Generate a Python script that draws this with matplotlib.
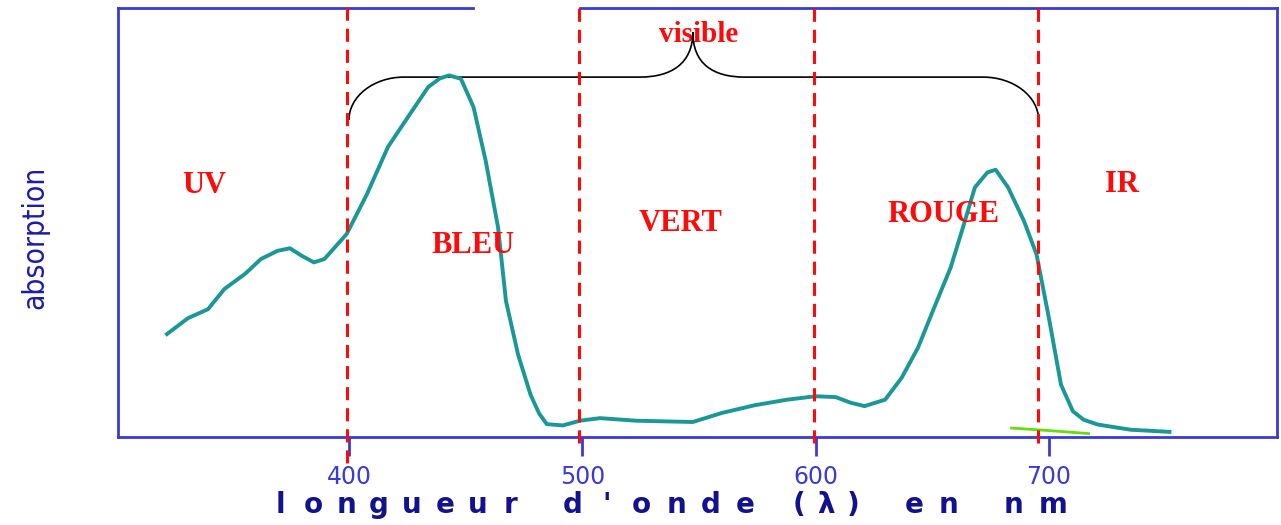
import numpy as np
import matplotlib
matplotlib.use("Agg")
import matplotlib.pyplot as plt
from matplotlib.path import Path
from matplotlib.patches import PathPatch
import matplotlib.transforms as mtransforms

# spectre d'absorption
wl = [322, 331, 339.6, 346.6, 355.4, 362.3, 369.4, 374.7, 379.9, 385, 389.5,
      399, 407.7, 416.7, 425.3, 434, 439, 442.9, 448, 453.4, 458.6, 463.9, 467.3,
      472.5, 477.8, 481.5, 484.8, 491.7, 499, 507.6, 523, 547.4, 559.8, 573.8, 587.8,
      600, 608.7, 615, 621, 629.8, 636.9, 643.9, 650.8, 657.9, 663.2, 668.3, 673.7,
      677.2, 682.5, 689.3, 694.7, 700, 705.2, 710.3, 715, 721, 735, 751.7]
absorb = [0.24, 0.277, 0.298, 0.345, 0.38, 0.415, 0.434, 0.44, 0.422, 0.407, 0.415,
          0.473, 0.566, 0.676, 0.746, 0.816, 0.836, 0.843, 0.835, 0.769, 0.644, 0.489, 0.317,
          0.192, 0.099, 0.055, 0.030, 0.027, 0.038, 0.044, 0.038, 0.035, 0.056, 0.074, 0.087,
          0.095, 0.093, 0.080, 0.072, 0.087, 0.138, 0.208, 0.301, 0.395, 0.489, 0.582, 0.617,
          0.623, 0.582, 0.504, 0.426, 0.278, 0.122, 0.060, 0.040, 0.029, 0.017, 0.012]

# petit trait vert parasite en bas a droite
green_wl = [684, 700, 717]
green_y = [0.021, 0.015, 0.008]

limits = [399, 498.5, 599.5, 695.5]
xticks = [400, 500, 600, 700]

zones = ["UV", "BLEU", "VERT", "ROUGE", "IR"]
zone_x = [337.8, 453.1, 542.3, 654.8, 731.3]
zone_y = [0.569, 0.430, 0.480, 0.501, 0.571]

blue = "#3a3ad8"
navy = "#12128e"
red = "#ff0a0a"

fig = plt.figure(figsize=(12.81, 5.25), dpi=100)
ax = fig.add_axes([0.0921, 0.1676, 0.9048, 0.8171])
ax.set_xlim(301, 797.8)
ax.set_ylim(0, 1)

# cadre
for s in ["left", "right", "bottom"]:
    ax.spines[s].set_color(blue)
    ax.spines[s].set_linewidth(2)
ax.spines["top"].set_visible(False)
ax.axhline(1.0, 0, 0.306, color=blue, lw=2, clip_on=False)
ax.axhline(1.0, 0.399, 1, color=blue, lw=2, clip_on=False)

ax.set_yticks([])
ax.set_xticks(xticks)
ax.tick_params(axis="x", direction="out", length=14, width=2, color=blue,
               labelcolor=blue, labelsize=17, pad=6)

# courbe
ax.plot(wl, absorb, color="#1a9797", lw=2.8, solid_joinstyle="round", zorder=3)
ax.plot(green_wl, green_y, color="#66dd11", lw=2, zorder=2)

# limites des domaines
trans = mtransforms.blended_transform_factory(ax.transData, ax.transAxes)
for i, x in enumerate(limits):
    y0 = -0.0606 if i == 0 else -0.014
    y1 = 1.0186 if i == 0 else 1.0
    ax.plot([x, x], [y0, y1], transform=trans, color=red, lw=2.2,
            linestyle=(0, (4.3, 2.6)), clip_on=False, zorder=4)

# accolade "visible"
verts = [(400, 0.739), (400, 0.794), (410.6, 0.839), (423.6, 0.839),
         (524.7, 0.839),
         (538, 0.839), (547.4, 0.87), (547.4, 0.944),
         (547.4, 0.87), (556, 0.839), (569.7, 0.839),
         (671.8, 0.839),
         (684.9, 0.839), (695.6, 0.794), (695.6, 0.739)]
codes = [Path.MOVETO, Path.CURVE4, Path.CURVE4, Path.CURVE4,
         Path.LINETO,
         Path.CURVE4, Path.CURVE4, Path.CURVE4,
         Path.CURVE4, Path.CURVE4, Path.CURVE4,
         Path.LINETO,
         Path.CURVE4, Path.CURVE4, Path.CURVE4]
ax.add_patch(PathPatch(Path(verts, codes), fill=False, edgecolor="black", lw=1.2, zorder=2))

serif = {"family": "Liberation Serif", "weight": "bold", "color": red}
for name, x, y in zip(zones, zone_x, zone_y):
    ax.text(x, y, name, ha="center", va="baseline", fontsize=22, **serif)
ax.text(550, 0.921, "visible", ha="center", va="baseline", fontsize=21, zorder=1, **serif)

# titre de l'axe y
fig.text(0.0273, 0.547, "absorption", rotation=90, ha="center", va="center",
         fontsize=21.5, color="#1c1caa", family="DejaVu Sans", fontstretch="condensed")

# titre de l'axe x, lettres espacees comme sur l'original
words = ["longueur", "d'onde", "(λ)", "en", "nm"]
spans = [(264, 527), (555, 763), (785, 867), (897, 965), (994, 1073)]
W, H = 1281, 525
for word, (a, b) in zip(words, spans):
    step = (b - a) / len(word)
    for i, ch in enumerate(word):
        fig.text((a + (i + 0.5) * step) / W, 1 - 513 / H, ch, ha="center",
                 va="baseline", fontsize=20, weight="heavy", color=navy)

fig.savefig("out.png", dpi=100)
